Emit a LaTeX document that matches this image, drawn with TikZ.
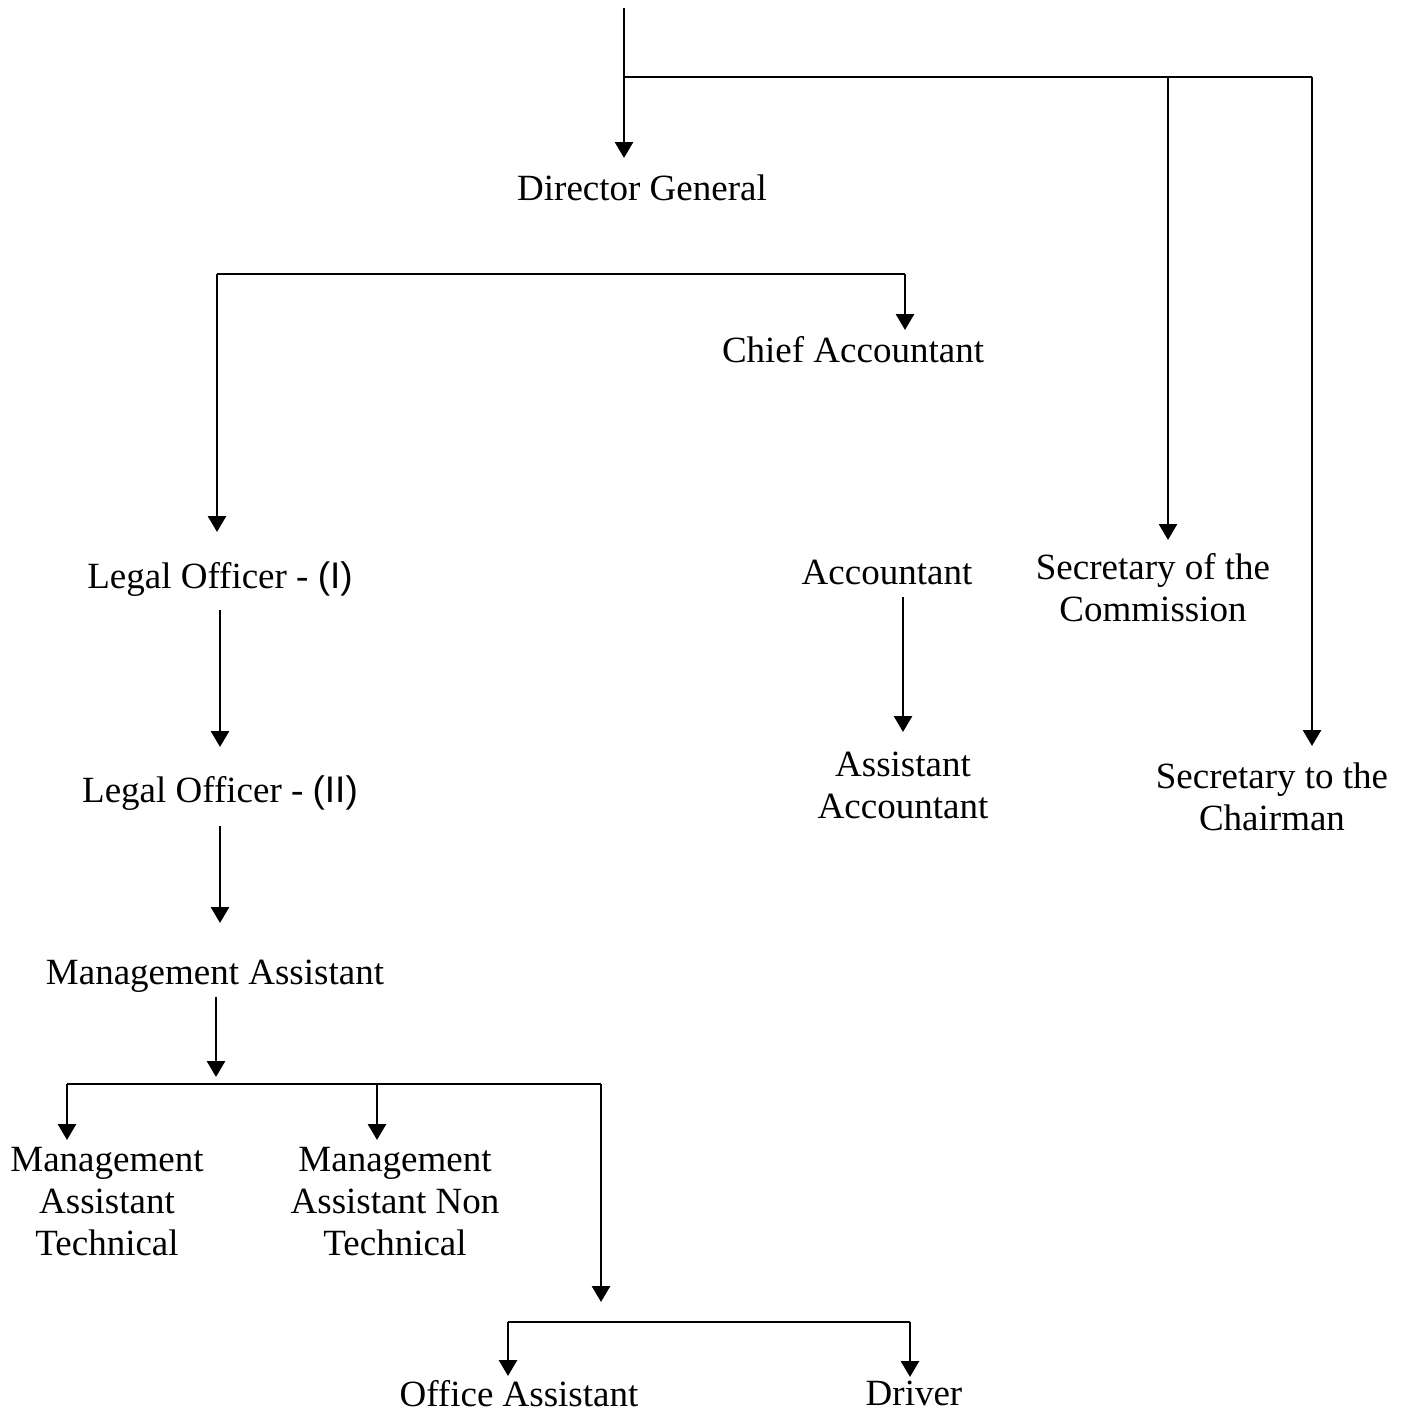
\documentclass[tikz,border=0pt]{standalone}
\usepackage{fontspec}
\setmainfont{Liberation Serif}
\newfontfamily\romfont{Liberation Sans}
\usetikzlibrary{arrows.meta}

\tikzset{
  post/.style={anchor=north, inner sep=0pt, align=center,
    font=\fontsize{37}{42}\selectfont},
  link/.style={line width=2.8pt},
  arr/.style={link, -{Triangle[width=18pt,length=16pt]}},
}

\begin{document}
\begin{tikzpicture}[x=1pt,y=-1pt]
\useasboundingbox (0,0) rectangle (1404,1414);

% posts
\node[post] (dg)   at (642,175)  {Director General};
\node[post] (ca)   at (853,336)  {Chief Accountant};
\node[post] (lo1)  at (220,561)  {Legal Officer - {\romfont (I)}};
\node[post] (acc)  at (887,560)  {Accountant};
\node[post] (soc)  at (1153,553) {Secretary of the\\Commission};
\node[post] (aa)   at (903,752)  {Assistant\\Accountant};
\node[post] (stc)  at (1272,763) {Secretary to the\\Chairman};
\node[post] (lo2)  at (220,775)  {Legal Officer - {\romfont (II)}};
\node[post] (ma)   at (215,960)  {Management Assistant};
\node[post] (mat)  at (107,1147) {Management\\Assistant\\Technical};
\node[post] (mant) at (395,1147) {Management\\Assistant Non\\Technical};
\node[post] (oa)   at (519,1380) {Office Assistant};
\node[post] (drv)  at (914,1381) {Driver};

% junctions
\coordinate (top) at (624,8);
\coordinate (j1)  at (624,77);
\coordinate (j1m) at (1168,77);
\coordinate (j1e) at (1312,77);
\coordinate (b2w) at (217,274);
\coordinate (b2e) at (905,274);
\coordinate (mab) at (216,1077);
\coordinate (b3w) at (67,1084);
\coordinate (b3m) at (377,1084);
\coordinate (b3e) at (601,1084);
\coordinate (b4t) at (601,1302);
\coordinate (b4w) at (508,1322);
\coordinate (b4e) at (910,1322);

% top level
\draw[arr, shorten >=17pt] (top) -- (top |- dg.north);
\draw[link] (j1) -- (j1e);
\draw[arr, shorten >=13pt] (j1m) -- (j1m |- soc.north);
\draw[arr, shorten >=17pt] (j1e) -- (j1e |- stc.north);

% second bar
\draw[link] (b2w) -- (b2e);
\draw[arr, shorten >=6pt] (b2e) -- (b2e |- ca.north);
\draw[arr, shorten >=29pt] (b2w) -- (b2w |- lo1.north);

% chains
\draw[arr, shorten <=12pt, shorten >=20pt] (aa.north |- acc.south) -- (aa.north);
\draw[arr, shorten <=14pt, shorten >=28pt] (lo1.south) -- (lo1.south |- lo2.north);
\draw[arr, shorten <=16pt, shorten >=37pt] (lo2.south) -- (lo2.south |- ma.north);
\draw[arr, shorten <=4pt] (mab |- ma.south) -- (mab);

% third bar
\draw[link] (b3w) -- (b3e);
\draw[arr, shorten >=7pt] (b3w) -- (b3w |- mat.north);
\draw[arr, shorten >=7pt] (b3m) -- (b3m |- mant.north);
\draw[arr] (b3e) -- (b4t);

% fourth bar
\draw[link] (b4w) -- (b4e);
\draw[arr, shorten >=4pt] (b4w) -- (b4w |- oa.north);
\draw[arr, shorten >=4pt] (b4e) -- (b4e |- drv.north);
\end{tikzpicture}
\end{document}
